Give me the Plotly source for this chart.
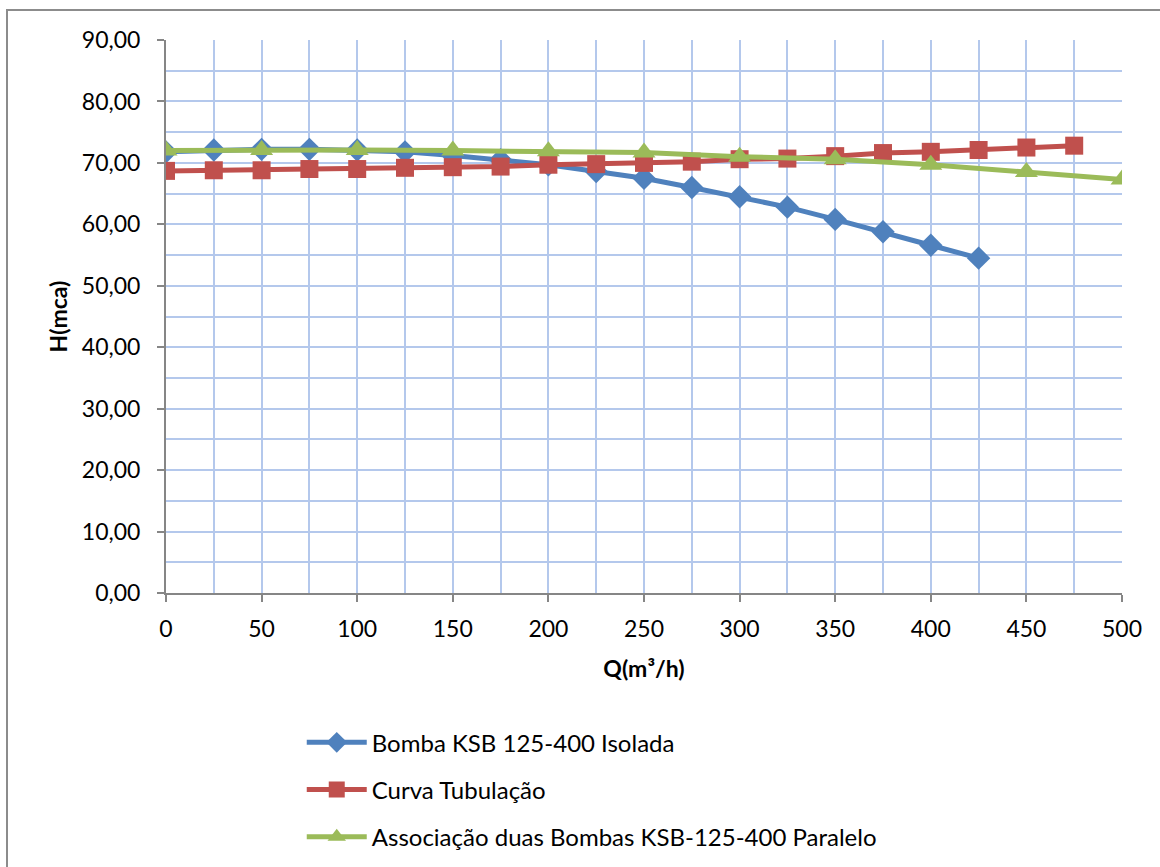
import plotly.graph_objects as go

# Data
q_bomba = [0, 25, 50, 75, 100, 125, 150, 175, 200, 225, 250, 275, 300, 325, 350, 375, 400, 425]
h_bomba = [71.8, 72.1, 72.2, 72.2, 72.1, 71.8, 71.2, 70.5, 69.7, 68.6, 67.5, 66.0, 64.5, 62.8, 60.8, 58.8, 56.6, 54.5]

q_tub = [0, 25, 50, 75, 100, 125, 150, 175, 200, 225, 250, 275, 300, 325, 350, 375, 400, 425, 450, 475]
h_tub = [68.7, 68.8, 68.8, 69.0, 69.0, 69.2, 69.3, 69.4, 69.7, 69.8, 70.0, 70.2, 70.6, 70.7, 71.1, 71.6, 71.8, 72.1, 72.5, 72.8]

q_assoc = [0, 50, 100, 150, 200, 250, 300, 350, 400, 450, 500]
h_assoc = [72.0, 72.1, 72.1, 72.0, 71.9, 71.7, 71.0, 70.6, 69.7, 68.5, 67.3]

names = ["Bomba KSB 125-400 Isolada", "Curva Tubulação",
         "Associação duas Bombas KSB-125-400 Paralelo"]

FONT = "Lato"
GRID = "#b4c8ec"
AXIS = "#868686"

fig = go.Figure()
fig.add_trace(go.Scatter(x=q_bomba, y=h_bomba, name=names[0], mode="lines+markers",
                         line=dict(color="#4F81BD", width=5),
                         marker=dict(symbol="diamond", size=18, color="#4F81BD"),
                         legendgroup="a"))
fig.add_trace(go.Scatter(x=q_tub, y=h_tub, name=names[1], mode="lines+markers",
                         line=dict(color="#C0504D", width=5),
                         marker=dict(symbol="square", size=18, color="#C0504D"),
                         legendgroup="b"))
fig.add_trace(go.Scatter(x=q_assoc, y=h_assoc, name=names[2], mode="lines+markers",
                         line=dict(color="#9BBB59", width=5),
                         marker=dict(symbol="triangle-up", size=20, color="#9BBB59"),
                         legendgroup="c"))

fig.update_layout(
    width=1160, height=867,
    margin=dict(l=166, r=38, t=40, b=274, autoexpand=False),
    paper_bgcolor="white", plot_bgcolor="white",
    separators=",.",
    font=dict(family=FONT, size=23, color="black"),
    showlegend=True,
    legend=dict(x=0.142, y=-0.230, xanchor="left", yanchor="top",
                orientation="v", traceorder="grouped", tracegroupgap=13,
                itemwidth=60, font=dict(size=24, family=FONT)),
    shapes=[dict(type="rect", xref="paper", yref="paper",
                 x0=(7 - 166) / 956, x1=(1170 - 166) / 956,
                 y0=(593 - 880) / 553, y1=(593 - 10) / 553,
                 line=dict(color="#8c8c8c", width=2), layer="below")],
)

fig.update_xaxes(range=[0, 500], dtick=50, tick0=0,
                 showline=True, linecolor=AXIS, linewidth=2,
                 ticks="outside", ticklen=7, tickcolor=AXIS, tickwidth=2,
                 showgrid=True, gridcolor=GRID, gridwidth=2,
                 minor=dict(dtick=25, showgrid=True, gridcolor=GRID, gridwidth=2),
                 zeroline=False, ticklabelstandoff=7,
                 title=dict(text="<b>Q(m³/h)</b>", font=dict(size=23, family=FONT), standoff=20))
fig.update_yaxes(range=[0, 90], dtick=10, tick0=0, tickformat=".2f",
                 showline=True, linecolor=AXIS, linewidth=2,
                 ticks="outside", ticklen=7, tickcolor=AXIS, tickwidth=2,
                 showgrid=True, gridcolor=GRID, gridwidth=2,
                 minor=dict(dtick=5, showgrid=True, gridcolor=GRID, gridwidth=2),
                 zeroline=False, ticklabelstandoff=12,
                 title=dict(text="<b>H(mca)</b>", font=dict(size=23, family=FONT), standoff=8))

fig.write_html("out.html")
